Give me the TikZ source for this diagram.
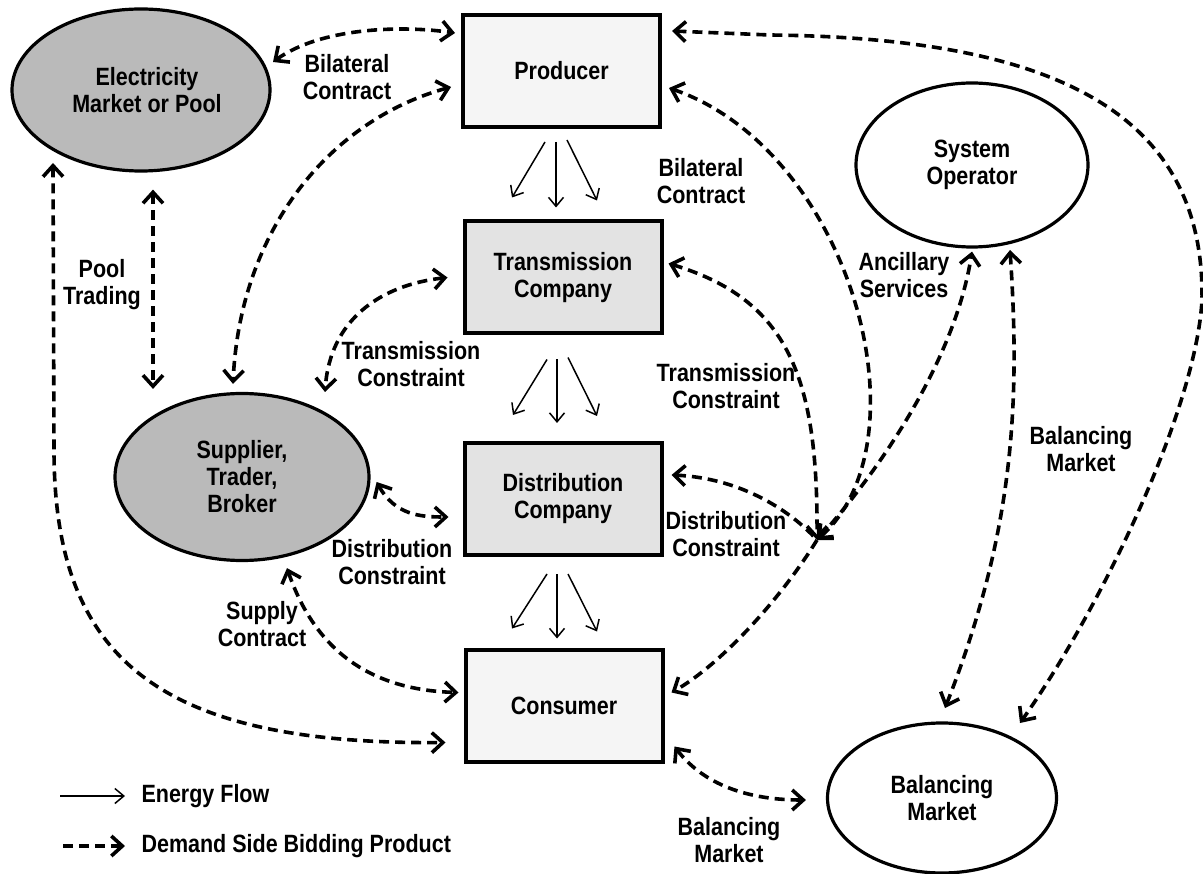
\documentclass[tikz,border=0pt]{standalone}
\usepackage{fontspec}
\setmainfont{Liberation Sans}[FakeStretch=0.86]
\usetikzlibrary{arrows.meta,shapes.geometric,calc}
\begin{document}
\begin{tikzpicture}[x=1pt,y=-1pt,
  bh/.tip={Straight Barb[length=11pt,width=20pt]},
  fh/.tip={Straight Barb[length=9pt,width=15pt]},
  txt/.style={font=\fontsize{25}{27}\selectfont\bfseries, align=center},
  box/.style={txt, draw, line width=4pt, minimum width=197pt, minimum height=112pt, inner sep=0pt},
  oval/.style={txt, ellipse, draw, line width=3.2pt, inner sep=0pt},
  bid/.style={line width=3.6pt, dash pattern=on 10pt off 6pt, line cap=butt},
  flow/.style={line width=1.5pt, -fh},
  lbl/.style={txt}
]
\useasboundingbox (0,0) rectangle (1203,874);

% market participants
\node[box, fill=black!4]  (prod)  at (561.5,71)  {Producer};
\node[box, fill=black!11] (trans) at (563,277.5) {Transmission\\Company};
\node[box, fill=black!11] (dist)  at (563,499)   {Distribution\\Company};
\node[box, fill=black!4]  (cons)  at (564,705.5) {Consumer};

\node[oval, fill=black!27, minimum width=258pt, minimum height=162pt] (elec) at (141,90) {\hspace*{12pt}Electricity\\\hspace*{12pt}Market or Pool};
\node[oval, fill=black!27, minimum width=254pt, minimum height=167pt] (supp) at (242,477) {Supplier,\\Trader,\\Broker};
\node[oval, fill=white, minimum width=232pt, minimum height=164pt] (sysop) at (972,165) {System\\Operator};
\node[oval, fill=white, minimum width=229pt, minimum height=150pt] (bal) at (942,798) {Balancing\\Market};

% meeting point of the operator flows
\coordinate (hub) at (817,540);

% connector labels
\node[lbl] (lbc1) at (347,77)  {Bilateral\\Contract};
\node[lbl] (lbc2) at (701,181) {Bilateral\\Contract};
\node[lbl] (lpool) at (102,285) {Pool\\Trading};
\node[lbl] (ltc1) at (411,364) {Transmission\\Constraint};
\node[lbl] (lanc) at (904,275) {Ancillary\\Services};
\node[lbl] (ltc2) at (726,386) {Transmission\\Constraint};
\node[lbl] (lbm1) at (1081,449) {Balancing\\Market};
\node[lbl] (ldc2) at (726,534) {Distribution\\Constraint};
\node[lbl] (ldc1) at (392,562) {Distribution\\Constraint};
\node[lbl] (lsc) at (262,624)  {Supply\\Contract};
\node[lbl] (lbm2) at (729,840) {Balancing\\Market};

% energy flow down the supply chain
\draw[flow] ($(prod.south)+(-16.5,13)$) -- ($(trans.north)+(-51,-22)$);
\draw[flow] ($(prod.south)+(-5.5,13)$)  -- ($(trans.north)+(-7,-12)$);
\draw[flow] ($(prod.south)+(5.5,11)$)   -- ($(trans.north)+(34,-19)$);
\draw[flow] ($(trans.south)+(-16,24)$)  -- ($(dist.north)+(-50,-26)$);
\draw[flow] ($(trans.south)+(-6,24)$)   -- ($(dist.north)+(-6,-18)$);
\draw[flow] ($(trans.south)+(5,22)$)    -- ($(dist.north)+(34,-25)$);
\draw[flow] ($(dist.south)+(-16,17)$)   -- ($(cons.north)+(-52,-19)$);
\draw[flow] ($(dist.south)+(-6,17)$)    -- ($(cons.north)+(-7,-9)$);
\draw[flow] ($(dist.south)+(5,17)$)     -- ($(cons.north)+(33,-16)$);

% demand side bidding products
\draw[bid, bh-bh] ($(elec.center)+(132,-28)$) .. controls (320,28) and (400,25) .. ($(prod.north west)+(-6,20)$);
\draw[bid, bh-bh] ($(prod.west)+(-10,16)$) .. controls (330,120) and (240,230) .. ($(supp.north)+(-9,-8)$);
\draw[bid, bh-bh] ($(elec.south)+(12,17)$) -- ($(supp.north)+(-89,-3)$);
\draw[bid, bh-bh] ($(elec.center)+(-88,73)$) -- (54,450) .. controls (54,660) and (160,745) .. ($(cons.west)+(-18,37)$);
\draw[bid, bh-bh] ($(trans.west)+(-15,0)$) .. controls (380,285) and (330,320) .. ($(supp.center)+(83,-85)$);
\draw[bid, bh-bh] ($(supp.east)+(6,5)$) .. controls (395,515) and (420,517) .. ($(dist.west)+(-14,18)$);
\draw[bid, bh-bh] ($(supp.south)+(45,6)$) .. controls (315,650) and (370,690) .. ($(cons.west)+(-5,-13)$);

\draw[bid, bh-bh] ($(prod.north east)+(10,18)$) -- (770,35) .. controls (1050,38) and (1205,110) .. (1202,300)
  .. controls (1196,410) and (1100,610) .. ($(bal.center)+(78,-75)$);
\draw[bid, bh-bh] ($(sysop.center)+(38,85)$) .. controls (1020,400) and (1015,530) .. ($(bal.center)+(3,-90)$);
\draw[bid, bh-bh] (hub) .. controls (880,470) and (955,360) .. ($(sysop.south)+(0,3)$);

\draw[bid, bh-bh] ($(prod.east)+(7,17)$) .. controls (850,150) and (930,440) .. (hub);
\draw[bid, bh-bh] ($(trans.east)+(5,-14)$) .. controls (790,300) and (818,380) .. (hub);
\draw[bid, bh-] ($(dist.east)+(8,-24)$) .. controls (740,478) and (790,510) .. (hub);
\draw[bid, -bh] (hub) .. controls (780,600) and (720,665) .. ($(cons.east)+(7,-13)$);
\draw[bid, bh-bh] ($(cons.south east)+(10,-17)$) .. controls (700,780) and (740,800) .. ($(bal.west)+(-20,2)$);

% legend
\node[lbl, anchor=west] (leg1) at (138,796) {Energy Flow};
\node[lbl, anchor=west] (leg2) at (138,846) {Demand Side Bidding Product};
\draw[flow] ($(leg1.west)+(-78,0)$) -- ($(leg1.west)+(-13,0)$);
\draw[bid, dash pattern=on 10pt off 6pt, -bh] ($(leg2.west)+(-75,0)$) -- ($(leg2.west)+(-13,0)$);
\end{tikzpicture}
\end{document}
